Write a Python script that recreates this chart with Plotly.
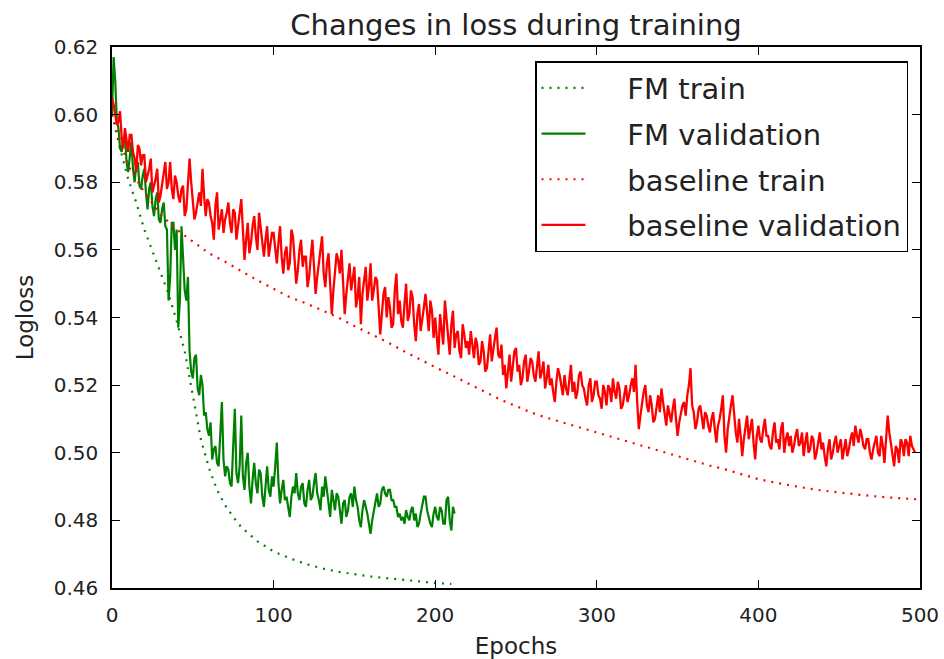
import plotly.graph_objects as go

# ---------------- data ----------------
title_text = "Changes in loss during training"
x_label = "Epochs"
y_label = "Logloss"
series_names = ["FM train", "FM validation", "baseline train", "baseline validation"]

x_ticks = [0, 100, 200, 300, 400, 500]
y_ticks = [0.46, 0.48, 0.50, 0.52, 0.54, 0.56, 0.58, 0.60, 0.62]

fm_train_epochs = [0, 5, 10, 15, 20, 25, 30, 35, 40, 45, 50, 55, 60, 65, 70, 75, 80,
                   90, 100, 110, 120, 130, 140, 150, 160, 170, 180, 190, 200, 210]
fm_train = [0.600, 0.590, 0.581, 0.574, 0.566, 0.5595, 0.5535, 0.547, 0.539, 0.530,
            0.517, 0.504, 0.4955, 0.489, 0.4845, 0.481, 0.478, 0.4738, 0.4708, 0.4688,
            0.4671, 0.4658, 0.4648, 0.464, 0.4634, 0.4629, 0.4624, 0.4619, 0.4615, 0.4612]

fm_val_epochs = list(range(0, 213))
fm_val = [
    0.600, 0.617, 0.610, 0.598, 0.596, 0.590, 0.589, 0.593, 0.594, 0.586,
    0.583, 0.588, 0.592, 0.584, 0.580, 0.585, 0.586, 0.579, 0.578, 0.582,
    0.584, 0.577, 0.572, 0.578, 0.580, 0.573, 0.570, 0.575, 0.577, 0.569,
    0.568, 0.572, 0.574, 0.567, 0.566, 0.545, 0.552, 0.568, 0.568, 0.560,
    0.566, 0.537, 0.545, 0.567, 0.558, 0.548, 0.545, 0.552, 0.530, 0.524,
    0.522, 0.528, 0.529, 0.519, 0.517, 0.523, 0.520, 0.511, 0.512, 0.507,
    0.505, 0.509, 0.498, 0.501, 0.502, 0.497, 0.496, 0.505, 0.515, 0.498,
    0.493, 0.496, 0.495, 0.491, 0.490, 0.502, 0.513, 0.494, 0.491, 0.496,
    0.511, 0.493, 0.489, 0.497, 0.500, 0.490, 0.485, 0.492, 0.497, 0.491,
    0.488, 0.495, 0.494, 0.487, 0.484, 0.490, 0.496, 0.489, 0.487, 0.493,
    0.490, 0.496, 0.503, 0.491, 0.485, 0.489, 0.492, 0.486, 0.487, 0.484,
    0.481, 0.487, 0.490, 0.488, 0.494, 0.488, 0.486, 0.490, 0.491, 0.485,
    0.484, 0.489, 0.492, 0.486, 0.487, 0.491, 0.494, 0.488, 0.486, 0.483,
    0.490, 0.487, 0.493, 0.489, 0.485, 0.481, 0.489, 0.486, 0.483, 0.488,
    0.487, 0.483, 0.479, 0.485, 0.486, 0.481, 0.483, 0.487, 0.488, 0.484,
    0.490, 0.486, 0.484, 0.480, 0.478, 0.483, 0.486, 0.484, 0.482, 0.479,
    0.476, 0.480, 0.483, 0.486, 0.488, 0.484, 0.485, 0.489, 0.490, 0.488,
    0.487, 0.489, 0.489, 0.486, 0.486, 0.484, 0.484, 0.481, 0.482, 0.480,
    0.481, 0.479, 0.483, 0.481, 0.480, 0.483, 0.484, 0.480, 0.482, 0.478,
    0.479, 0.482, 0.485, 0.487, 0.487, 0.483, 0.481, 0.479, 0.478, 0.482,
    0.484, 0.481, 0.480, 0.484, 0.483, 0.479, 0.479, 0.486, 0.487, 0.480,
    0.477, 0.484, 0.482,
]

base_train_epochs = list(range(0, 500, 10)) + [499]
base_train = [0.600, 0.585, 0.577, 0.5705, 0.566, 0.5625, 0.559, 0.5565, 0.5537, 0.551,
              0.5485, 0.546, 0.5442, 0.5422, 0.540, 0.5375, 0.5352, 0.5328, 0.5302, 0.5277,
              0.5253, 0.523, 0.5205, 0.5182, 0.5158, 0.5138, 0.5118, 0.5102, 0.5088, 0.5074,
              0.5060, 0.5046, 0.5032, 0.5018, 0.5002, 0.4988, 0.4975, 0.4962, 0.495, 0.4935,
              0.4922, 0.4912, 0.4903, 0.4895, 0.4888, 0.4882, 0.4877, 0.4872, 0.4868, 0.4865,
              0.4862]

base_val_epochs = list(range(0, 498))
base_val = [
    0.605, 0.603, 0.600, 0.597, 0.598, 0.601, 0.593, 0.590, 0.596, 0.592,
    0.589, 0.594, 0.594, 0.589, 0.587, 0.583, 0.591, 0.590, 0.585, 0.588,
    0.588, 0.580, 0.582, 0.584, 0.587, 0.577, 0.579, 0.581, 0.584, 0.574,
    0.576, 0.579, 0.583, 0.586, 0.578, 0.580, 0.586, 0.578, 0.575, 0.582,
    0.580, 0.576, 0.574, 0.578, 0.579, 0.570, 0.572, 0.581, 0.587, 0.580,
    0.575, 0.569, 0.571, 0.574, 0.577, 0.573, 0.584, 0.576, 0.570, 0.575,
    0.574, 0.570, 0.568, 0.563, 0.573, 0.577, 0.566, 0.569, 0.572, 0.565,
    0.569, 0.571, 0.574, 0.568, 0.565, 0.572, 0.571, 0.563, 0.567, 0.570,
    0.575, 0.566, 0.557, 0.563, 0.568, 0.559, 0.562, 0.567, 0.570, 0.564,
    0.560, 0.571, 0.566, 0.561, 0.558, 0.563, 0.567, 0.558, 0.561, 0.565,
    0.565, 0.560, 0.556, 0.562, 0.567, 0.558, 0.553, 0.559, 0.561, 0.554,
    0.556, 0.566, 0.564, 0.557, 0.550, 0.554, 0.560, 0.563, 0.555, 0.558,
    0.558, 0.549, 0.552, 0.558, 0.563, 0.555, 0.547, 0.552, 0.556, 0.560,
    0.564, 0.553, 0.549, 0.556, 0.559, 0.550, 0.541, 0.548, 0.555, 0.559,
    0.557, 0.553, 0.560, 0.549, 0.541, 0.547, 0.552, 0.556, 0.548, 0.551,
    0.555, 0.543, 0.546, 0.552, 0.538, 0.547, 0.551, 0.555, 0.545, 0.549,
    0.556, 0.545, 0.548, 0.552, 0.551, 0.543, 0.535, 0.541, 0.547, 0.549,
    0.540, 0.546, 0.543, 0.537, 0.538, 0.548, 0.553, 0.541, 0.545, 0.539,
    0.537, 0.544, 0.550, 0.539, 0.541, 0.548, 0.546, 0.538, 0.533, 0.541,
    0.544, 0.536, 0.539, 0.543, 0.547, 0.540, 0.536, 0.545, 0.542, 0.534,
    0.540, 0.534, 0.529, 0.541, 0.537, 0.532, 0.545, 0.539, 0.534, 0.529,
    0.538, 0.542, 0.531, 0.535, 0.536, 0.530, 0.528, 0.538, 0.535, 0.531,
    0.533, 0.529, 0.536, 0.531, 0.528, 0.534, 0.532, 0.526, 0.527, 0.533,
    0.530, 0.524, 0.525, 0.530, 0.535, 0.527, 0.531, 0.534, 0.537, 0.529,
    0.528, 0.532, 0.523, 0.526, 0.519, 0.524, 0.529, 0.521, 0.525, 0.530,
    0.531, 0.524, 0.526, 0.520, 0.522, 0.527, 0.529, 0.521, 0.524, 0.528,
    0.527, 0.523, 0.521, 0.526, 0.530, 0.522, 0.524, 0.527, 0.519, 0.522,
    0.526, 0.520, 0.522, 0.518, 0.515, 0.521, 0.525, 0.523, 0.520, 0.517,
    0.523, 0.519, 0.517, 0.522, 0.526, 0.518, 0.521, 0.516, 0.518, 0.523,
    0.524, 0.520, 0.519, 0.516, 0.514, 0.520, 0.522, 0.515, 0.517, 0.521,
    0.521, 0.517, 0.516, 0.513, 0.520, 0.518, 0.514, 0.520, 0.519, 0.515,
    0.522, 0.518, 0.516, 0.521, 0.519, 0.513, 0.514, 0.517, 0.520, 0.515,
    0.517, 0.520, 0.522, 0.518, 0.526, 0.515, 0.507, 0.511, 0.515, 0.518,
    0.520, 0.514, 0.512, 0.517, 0.514, 0.509, 0.510, 0.514, 0.517, 0.512,
    0.519, 0.515, 0.511, 0.508, 0.514, 0.511, 0.509, 0.513, 0.516, 0.510,
    0.505, 0.509, 0.512, 0.514, 0.515, 0.511, 0.517, 0.520, 0.525, 0.514,
    0.512, 0.507, 0.509, 0.513, 0.514, 0.510, 0.507, 0.512, 0.511, 0.508,
    0.506, 0.510, 0.512, 0.507, 0.503, 0.508, 0.510, 0.513, 0.517, 0.505,
    0.500, 0.507, 0.511, 0.514, 0.517, 0.510, 0.506, 0.503, 0.510, 0.505,
    0.499, 0.504, 0.508, 0.511, 0.504, 0.507, 0.510, 0.503, 0.498, 0.505,
    0.508, 0.504, 0.503, 0.507, 0.510, 0.505, 0.505, 0.502, 0.501, 0.506,
    0.509, 0.503, 0.504, 0.501, 0.507, 0.509, 0.500, 0.504, 0.506, 0.502,
    0.505, 0.500, 0.502, 0.505, 0.507, 0.502, 0.503, 0.506, 0.499, 0.503,
    0.506, 0.500, 0.501, 0.505, 0.504, 0.498, 0.500, 0.503, 0.506, 0.501,
    0.503, 0.499, 0.496, 0.501, 0.504, 0.498, 0.500, 0.503, 0.505, 0.500,
    0.502, 0.504, 0.498, 0.501, 0.504, 0.499, 0.501, 0.504, 0.506, 0.502,
    0.508, 0.505, 0.503, 0.507, 0.505, 0.502, 0.501, 0.504, 0.504, 0.500,
    0.498, 0.501, 0.503, 0.505, 0.500, 0.499, 0.505, 0.502, 0.497, 0.504,
    0.511, 0.506, 0.503, 0.500, 0.496, 0.502, 0.501, 0.497, 0.504, 0.503,
    0.499, 0.504, 0.503, 0.499, 0.505, 0.502, 0.501, 0.500,
]

# ---------------- styles ----------------
GREEN = "#008000"
RED = "#ff0000"
DOT = "2px,6px"
PAD = "\u00a0" * 4  # visual gap between legend sample and label

fig = go.Figure()
fig.add_trace(go.Scatter(x=fm_train_epochs, y=fm_train, mode="lines", name=PAD + series_names[0],
                         legendgroup="a", line=dict(color=GREEN, width=2.2, dash=DOT)))
fig.add_trace(go.Scatter(x=fm_val_epochs, y=fm_val, mode="lines", name=PAD + series_names[1],
                         legendgroup="b", line=dict(color=GREEN, width=2.2)))
fig.add_trace(go.Scatter(x=base_train_epochs, y=base_train, mode="lines", name=PAD + series_names[2],
                         legendgroup="c", line=dict(color=RED, width=2.2, dash=DOT)))
fig.add_trace(go.Scatter(x=base_val_epochs, y=base_val, mode="lines", name=PAD + series_names[3],
                         legendgroup="d", line=dict(color=RED, width=2.3)))

axis_common = dict(
    showline=True, linecolor="black", linewidth=1.5, mirror="ticks",
    ticks="inside", ticklen=8, tickwidth=1.3, tickcolor="black",
    showgrid=False, zeroline=False, automargin=False,
    tickfont=dict(size=20, color="#222"),
)

fig.update_xaxes(range=[0, 500], tickvals=x_ticks, ticklabelstandoff=8,
                 title=dict(text=x_label, font=dict(size=23, color="#222"), standoff=12),
                 **axis_common)
fig.update_yaxes(range=[0.46, 0.62], tickvals=y_ticks, tickformat=".2f", ticklabelstandoff=8,
                 title=dict(text=y_label, font=dict(size=23, color="#222"), standoff=14),
                 **axis_common)

fig.update_layout(
    width=944, height=659,
    margin=dict(l=112, r=24, t=47, b=71),
    paper_bgcolor="white", plot_bgcolor="white",
    font=dict(family="DejaVu Sans", color="#222"),
    title=dict(text=title_text, x=516 / 944, xanchor="center", xref="container",
               y=1 - 25 / 659, yanchor="middle", font=dict(size=29, color="#222"),
               automargin=False),
    legend=dict(x=(908 - 112) / 808, xanchor="right", y=(588 - 61) / 541, yanchor="top",
                bgcolor="white", bordercolor="black", borderwidth=1.5,
                font=dict(size=29, color="#222"), tracegroupgap=5, itemwidth=44),
    showlegend=True,
)

fig.write_html("out.html")
